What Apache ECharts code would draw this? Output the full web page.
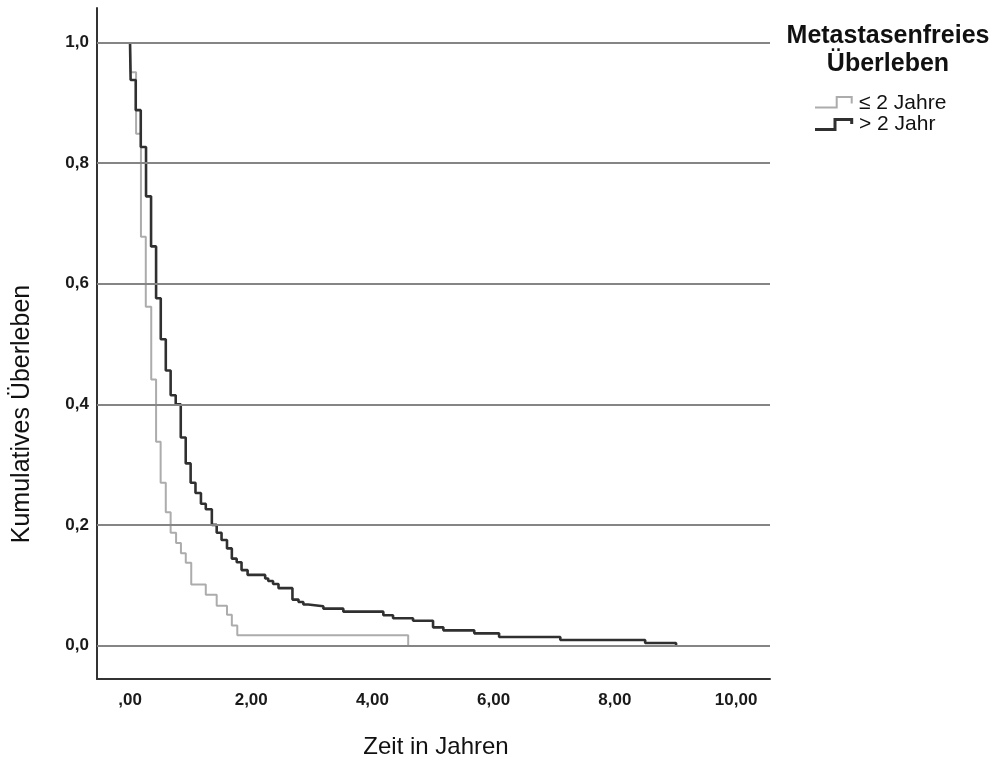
<!DOCTYPE html>
<html>
<head>
<meta charset="utf-8">
<script src="https://cdn.jsdelivr.net/npm/echarts@6/dist/echarts.min.js"></script>
<style>
html,body{margin:0;padding:0;background:#fff;}
#chart{width:1000px;height:758px;}
</style>
</head>
<body>
<div id="chart"></div>
<script>
// ---- data ----
var seriesNames = ['≤ 2 Jahre', '> 2 Jahr'];
var legendTitle = ['Metastasenfreies', 'Überleben'];
var xTitle = 'Zeit in Jahren';
var yTitle = 'Kumulatives Überleben';
var xTicks = [0, 2, 4, 6, 8, 10];
var yTicks = [0, 0.2, 0.4, 0.6, 0.8, 1.0];

// group "≤ 2 Jahre" (light curve)
var lightTime = [0, 0.01, 0.10, 0.18, 0.26, 0.35, 0.43, 0.505, 0.59, 0.67, 0.76, 0.84, 0.92, 1.01, 1.25, 1.43, 1.60, 1.68, 1.77, 4.59];
var lightSurv = [1.0, 0.951, 0.849, 0.678, 0.562, 0.441, 0.338, 0.270, 0.221, 0.187, 0.170, 0.153, 0.137, 0.101, 0.084, 0.066, 0.051, 0.033, 0.017, 0.0];

// group "> 2 Jahr" (dark curve)
var darkTime = [0, 0.01, 0.094, 0.177, 0.264, 0.347, 0.43, 0.507, 0.59, 0.67, 0.754, 0.837, 0.919, 1.00, 1.08, 1.17, 1.25, 1.35, 1.43, 1.51, 1.60, 1.68, 1.76, 1.84, 1.94, 2.23, 2.28, 2.36, 2.45, 2.68, 2.78, 2.86, 2.94, 3.19, 3.52, 4.18, 4.34, 4.67, 5.00, 5.17, 5.68, 6.09, 7.10, 8.50, 9.01];
var darkSurv = [1.0, 0.938, 0.888, 0.827, 0.745, 0.662, 0.576, 0.508, 0.456, 0.415, 0.400, 0.345, 0.302, 0.270, 0.253, 0.235, 0.226, 0.200, 0.187, 0.175, 0.161, 0.144, 0.138, 0.125, 0.117, 0.111, 0.107, 0.102, 0.095, 0.076, 0.072, 0.068, 0.065, 0.061, 0.056, 0.050, 0.045, 0.041, 0.030, 0.025, 0.020, 0.014, 0.009, 0.004, 0.0];

// ---- styling ----
var FONT = "'Liberation Sans', Arial, Helvetica, sans-serif";
var lightColor = '#acacac';
var darkColor = '#303030';
var gridColor = '#858585';
var axisColor = '#333333';

function zip(t, s) { return t.map(function (v, i) { return [v, s[i]]; }); }

var chart = echarts.init(document.getElementById('chart'), null, { renderer: 'canvas' });

var option = {
  animation: false,
  backgroundColor: '#ffffff',
  grid: { left: 97, right: 230, top: 8, bottom: 79, containLabel: false, outerBoundsMode: 'none' },
  xAxis: {
    type: 'value',
    min: -0.545, max: 10.56,
    axisLine: { show: true, onZero: false, lineStyle: { color: axisColor, width: 2 } },
    axisTick: { show: false },
    splitLine: { show: false },
    axisLabel: {
      customValues: xTicks,
      margin: 13,
      fontFamily: FONT, fontSize: 17, fontWeight: 'bold', color: '#1a1a1a',
      formatter: function (v) { return v === 0 ? ',00' : v.toFixed(2).replace('.', ','); }
    }
  },
  yAxis: {
    type: 'value',
    min: -0.0557, max: 1.0575,
    axisLine: { show: true, onZero: false, lineStyle: { color: axisColor, width: 2 } },
    axisTick: { show: false },
    splitLine: { show: false },
    axisLabel: {
      customValues: yTicks,
      margin: 8,
      fontFamily: FONT, fontSize: 17, fontWeight: 'bold', color: '#1a1a1a',
      formatter: function (v) { return v.toFixed(1).replace('.', ','); }
    }
  },
  series: [
    {
      name: 'grid',
      type: 'line',
      data: [],
      z: 1,
      silent: true,
      markLine: {
        silent: true,
        symbol: ['none', 'none'],
        label: { show: false },
        lineStyle: { color: gridColor, width: 2, type: 'solid' },
        data: yTicks.map(function (v) { return { yAxis: v }; })
      }
    },
    {
      name: seriesNames[0],
      type: 'line',
      step: 'end',
      showSymbol: false,
      z: 3,
      lineStyle: { color: lightColor, width: 2 },
      itemStyle: { color: lightColor },
      data: zip(lightTime, lightSurv)
    },
    {
      name: seriesNames[1],
      type: 'line',
      step: 'end',
      showSymbol: false,
      z: 4,
      lineStyle: { color: darkColor, width: 2.6 },
      itemStyle: { color: darkColor },
      data: zip(darkTime, darkSurv)
    }
  ],
  graphic: [
    { type: 'text', x: 436, y: 747, style: { text: xTitle, align: 'center', verticalAlign: 'middle', fontFamily: FONT, fontSize: 24, fill: '#111' } },
    { type: 'text', x: 22, y: 414, rotation: Math.PI / 2, style: { text: yTitle, align: 'center', verticalAlign: 'middle', fontFamily: FONT, fontSize: 25, fill: '#111' } },
    { type: 'text', x: 888, y: 36, style: { text: legendTitle[0], align: 'center', verticalAlign: 'middle', fontFamily: FONT, fontSize: 25, fontWeight: 'bold', fill: '#111' } },
    { type: 'text', x: 888, y: 64, style: { text: legendTitle[1], align: 'center', verticalAlign: 'middle', fontFamily: FONT, fontSize: 25, fontWeight: 'bold', fill: '#111' } },
    { type: 'polyline', shape: { points: [[815, 107.5], [836.7, 107.5], [836.7, 97], [851.7, 97], [851.7, 103.5]] }, style: { stroke: lightColor, lineWidth: 2, fill: null } },
    { type: 'text', x: 859, y: 103.5, style: { text: seriesNames[0], align: 'left', verticalAlign: 'middle', fontFamily: FONT, fontSize: 21, fill: '#111' } },
    { type: 'polyline', shape: { points: [[815, 129.5], [835, 129.5], [835, 119.5], [851.7, 119.5], [851.7, 124]] }, style: { stroke: darkColor, lineWidth: 3, fill: null } },
    { type: 'text', x: 859, y: 124, style: { text: seriesNames[1], align: 'left', verticalAlign: 'middle', fontFamily: FONT, fontSize: 21, fill: '#111' } }
  ]
};

chart.setOption(option);
</script>
</body>
</html>
